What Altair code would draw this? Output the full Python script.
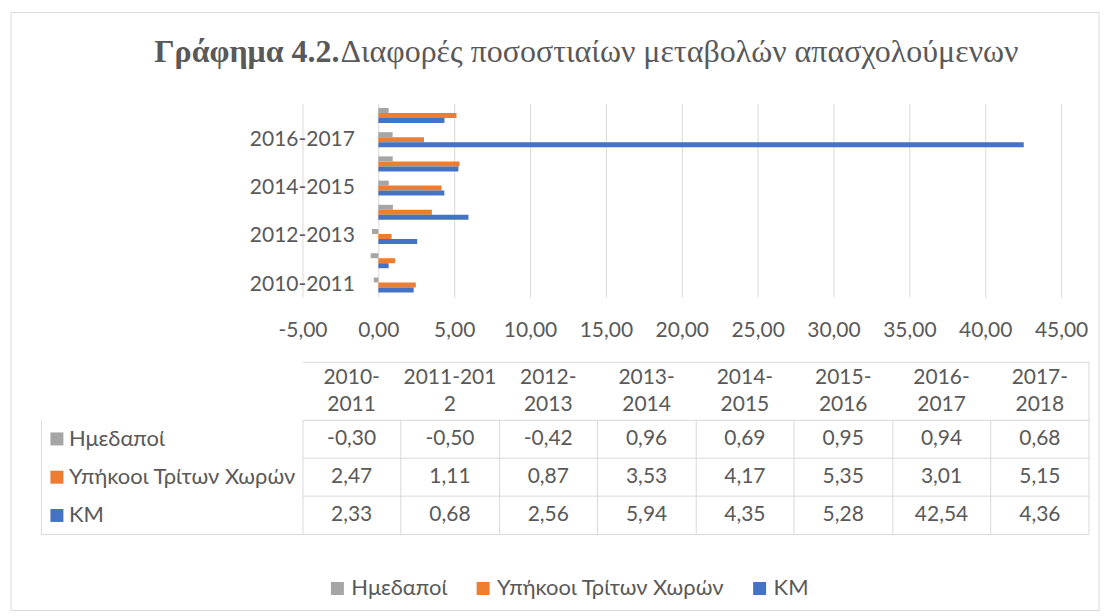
import altair as alt
import pandas as pd

# ---------------- data ----------------
PERIODS = ["2010-2011", "2011-2012", "2012-2013", "2013-2014",
           "2014-2015", "2015-2016", "2016-2017", "2017-2018"]
HEADER_LABELS = ["2010-\n2011", "2011-201\n2", "2012-\n2013", "2013-\n2014",
                 "2014-\n2015", "2015-\n2016", "2016-\n2017", "2017-\n2018"]
SERIES = ["Ημεδαποί", "Υπήκοοι Τρίτων Χωρών", "ΚΜ"]
HMEDAPOI = [-0.30, -0.50, -0.42, 0.96, 0.69, 0.95, 0.94, 0.68]
YPIKOOI = [2.47, 1.11, 0.87, 3.53, 4.17, 5.35, 3.01, 5.15]
KM = [2.33, 0.68, 2.56, 5.94, 4.35, 5.28, 42.54, 4.36]
X_TICKS = [-5, 0, 5, 10, 15, 20, 25, 30, 35, 40, 45]
Y_LABELS_SHOWN = ["2010-2011", "2012-2013", "2014-2015", "2016-2017"]
TITLE_BOLD = "Γράφημα 4.2."
TITLE_REST = "Διαφορές ποσοστιαίων μεταβολών απασχολούμενων"

# ---------------- styles / layout ----------------
COLORS = ["#A5A5A5", "#ED7D31", "#4472C4"]
FONT = "Lato"
TITLE_FONT = "Liberation Serif"
TEXT_COLOR = "#595959"
LINE = "#D9D9D9"
FS = 21          # numbers
FS_TXT = 22      # Greek labels
TITLE_FS = 32

FULL_W = 1050                  # table width (page x 40..1090)
LEFT_W = 262                   # first table column
PLOT_X0, PLOT_X1 = 262, 1022   # bar plot area inside the row
PLOT_H = 194
HEAD_H, BODY_H = 58, 115
GAP = 65

rows = []
for s, vals in zip(SERIES, [HMEDAPOI, YPIKOOI, KM]):
    for p, v in zip(PERIODS, vals):
        rows.append({"period": p, "series": s, "value": v})
df = pd.DataFrame(rows)
header_df = pd.DataFrame({"period": PERIODS, "header": HEADER_LABELS})
label_df = pd.DataFrame({"series": SERIES})
title_df = pd.DataFrame({"t": [TITLE_BOLD]})
title2_df = pd.DataFrame({"t": [TITLE_REST]})

color_scale = alt.Scale(domain=SERIES, range=COLORS)
fmt = "(datum.value < 0 ? '-' : '') + replace(format(abs(datum.value), '.2f'), '.', ',')"

# ---------------- row 1: bar chart ----------------
bars = alt.Chart(df).mark_bar().encode(
    x=alt.X("value:Q",
            scale=alt.Scale(domain=[-5, 45], nice=False, range=[PLOT_X0, PLOT_X1]),
            axis=alt.Axis(values=X_TICKS, labelExpr=fmt, grid=True, gridColor=LINE,
                          domain=False, ticks=False, tickSize=0, labelPadding=23,
                          labelOverlap=False, labelFlush=False, labelFont=FONT,
                          labelFontSize=FS, labelColor=TEXT_COLOR, title=None)),
    y=alt.Y("period:N", sort=PERIODS[::-1],
            scale=alt.Scale(paddingInner=0.38, paddingOuter=0.19),
            axis=alt.Axis(values=Y_LABELS_SHOWN, offset=-(PLOT_X0 + 76), labelPadding=24,
                          ticks=False, tickSize=0, domain=False, grid=False, labelFont=FONT,
                          labelFontSize=FS, labelColor=TEXT_COLOR, title=None)),
    yOffset=alt.YOffset("series:N", sort=SERIES, scale=alt.Scale(paddingInner=0, paddingOuter=0)),
    color=alt.Color("series:N", scale=color_scale,
                    legend=alt.Legend(orient="none", legendX=286, legendY=475, direction="horizontal",
                                      title=None, symbolType="square", symbolSize=169,
                                      symbolStrokeWidth=0, labelFont=FONT, labelFontSize=FS_TXT,
                                      labelColor=TEXT_COLOR, labelOffset=3, columnPadding=24,
                                      labelLimit=400)),
)
title_a = alt.Chart(title_df).mark_text(
    font=TITLE_FONT, fontSize=TITLE_FS, fontWeight="bold", color=TEXT_COLOR,
    align="right", baseline="alphabetic"
).encode(x=alt.value(299), y=alt.value(-41), text="t:N")
title_b = alt.Chart(title2_df).mark_text(
    font=TITLE_FONT, fontSize=TITLE_FS, color=TEXT_COLOR, align="left", baseline="alphabetic"
).encode(x=alt.value(300), y=alt.value(-41), text="t:N")

row1 = alt.layer(bars, title_a, title_b).properties(width=FULL_W, height=PLOT_H)

# ---------------- row 2: data table (header + body) ----------------
band_cols = alt.Scale(domain=PERIODS, range=[LEFT_W, FULL_W], paddingInner=0, paddingOuter=0)
band_rows = alt.Scale(domain=SERIES, range=[HEAD_H, HEAD_H + BODY_H], paddingInner=0, paddingOuter=0)

values = alt.Chart(df).transform_calculate(label=fmt).mark_text(
    font=FONT, fontSize=FS, color=TEXT_COLOR, baseline="middle"
).encode(
    x=alt.X("period:N", scale=band_cols,
            axis=alt.Axis(orient="top", grid=True, bandPosition=0, gridColor=LINE,
                          domain=True, domainColor=LINE, labels=False, ticks=False,
                          title=None)),
    y=alt.Y("series:N", scale=band_rows,
            axis=alt.Axis(orient="left", grid=True, bandPosition=0, gridColor=LINE,
                          domain=True, domainColor=LINE, labels=False, ticks=False,
                          title=None)),
    text="label:N",
)
head_text = alt.Chart(header_df).mark_text(
    font=FONT, fontSize=FS, color=TEXT_COLOR, lineBreak="\n", lineHeight=27, baseline="middle"
).encode(
    x=alt.X("period:N", scale=band_cols),
    y=alt.value(16),
    text="header:N",
)
labels_sq = alt.Chart(label_df).mark_square(size=169, opacity=1).encode(
    x=alt.value(16), y=alt.Y("series:N", scale=band_rows),
    color=alt.Color("series:N", scale=color_scale, legend=None),
)
labels_tx = alt.Chart(label_df).mark_text(
    font=FONT, fontSize=FS_TXT, color=TEXT_COLOR, align="left", baseline="middle"
).encode(x=alt.value(28), y=alt.Y("series:N", scale=band_rows), text="series:N")
right_edge = alt.Chart(header_df).transform_filter(
    alt.datum.period == PERIODS[-1]
).mark_rule(color=LINE, strokeWidth=1).encode(
    x=alt.X("period:N", scale=band_cols, bandPosition=1),
)
bottom_edge = alt.Chart(label_df).transform_filter(
    alt.datum.series == SERIES[-1]
).mark_rule(color=LINE, strokeWidth=1).encode(
    y=alt.Y("series:N", scale=band_rows, bandPosition=1),
)
frame = alt.Chart(title_df).mark_rect(fillOpacity=0, stroke=LINE, strokeWidth=1).encode(
    x=alt.value(-30), x2=alt.value(1060), y=alt.value(-350), y2=alt.value(249)
)
row2 = alt.layer(values, head_text, labels_sq, labels_tx, right_edge, bottom_edge, frame).properties(
    width=FULL_W, height=HEAD_H + BODY_H
)

chart = alt.vconcat(row1, row2, spacing=GAP, bounds="flush").properties(
    padding={"left": 2, "top": 3, "right": 0, "bottom": 0},
    background="white",
).configure_view(strokeWidth=0)

chart.save("out.html", embed_options={"renderer": "svg", "actions": False})
